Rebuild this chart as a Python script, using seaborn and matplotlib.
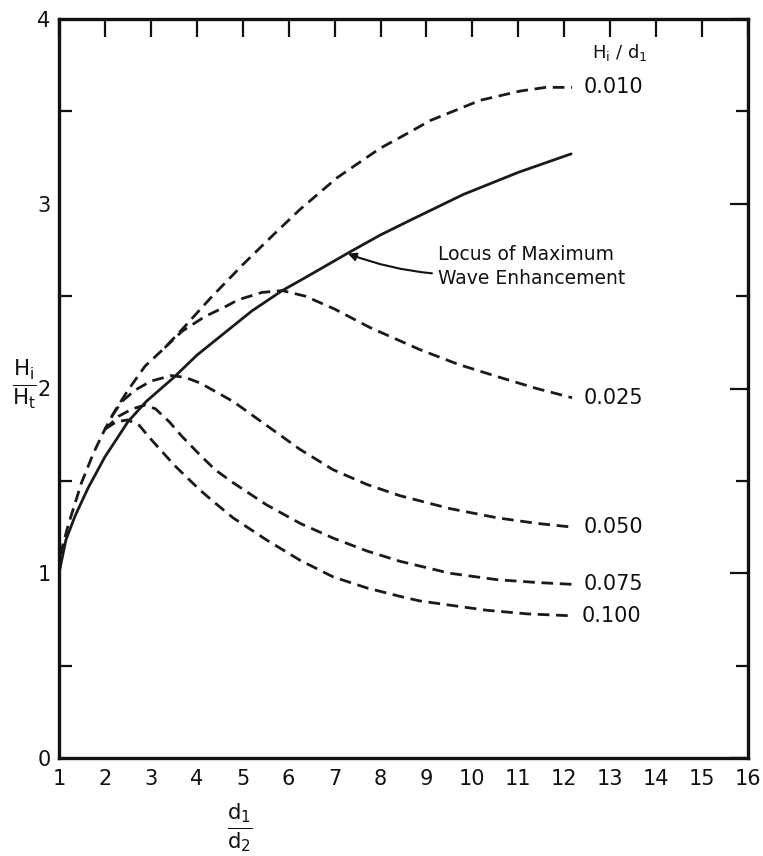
import numpy as np
import pandas as pd
import matplotlib
matplotlib.use("Agg")
import matplotlib.pyplot as plt
import seaborn as sns

# ---- data ----
x_locus = [1.0, 1.15, 1.35, 1.63, 2.0, 2.37, 2.5, 2.9, 3.5, 4.0, 4.55, 5.2, 5.86, 6.36, 7.34, 7.99, 8.64, 9.8, 11.0, 12.15]
y_locus = [1.0, 1.18, 1.31, 1.46, 1.63, 1.77, 1.82, 1.93, 2.06, 2.18, 2.29, 2.42, 2.53, 2.60, 2.74, 2.83, 2.91, 3.05, 3.17, 3.27]

x_010 = [1.0, 1.07, 1.2, 1.49, 1.75, 2.0, 2.22, 2.5, 2.87, 3.3, 3.68, 4.3, 5.0, 5.7, 6.25, 7.05, 7.99, 8.58, 9.08, 10.17, 11.04, 11.6, 12.17]
y_010 = [1.0, 1.14, 1.26, 1.49, 1.65, 1.78, 1.88, 1.99, 2.12, 2.22, 2.32, 2.49, 2.67, 2.84, 2.97, 3.14, 3.30, 3.38, 3.45, 3.56, 3.61, 3.63, 3.63]

x_025 = [3.3, 3.68, 4.18, 4.6, 4.9, 5.42, 5.86, 6.36, 7.0, 7.77, 8.86, 9.7, 10.6, 11.4, 12.17]
y_025 = [2.22, 2.31, 2.39, 2.44, 2.48, 2.52, 2.53, 2.50, 2.43, 2.33, 2.21, 2.13, 2.06, 2.00, 1.95]

x_050 = [2.15, 2.37, 2.65, 3.0, 3.45, 3.75, 4.07, 4.79, 5.52, 6.25, 6.97, 7.71, 8.42, 9.51, 10.54, 11.4, 12.17]
y_050 = [1.85, 1.93, 1.99, 2.04, 2.07, 2.06, 2.03, 1.93, 1.80, 1.67, 1.56, 1.48, 1.42, 1.35, 1.30, 1.27, 1.25]

x_075 = [2.0, 2.3, 2.6, 2.87, 3.1, 3.4, 3.68, 4.07, 4.40, 4.79, 5.52, 6.25, 6.97, 7.71, 8.42, 9.51, 10.54, 11.4, 12.17]
y_075 = [1.78, 1.85, 1.89, 1.91, 1.89, 1.82, 1.74, 1.64, 1.56, 1.49, 1.37, 1.27, 1.19, 1.12, 1.065, 1.00, 0.965, 0.95, 0.94]

x_100 = [2.0, 2.25, 2.5, 2.75, 2.95, 3.2, 3.53, 4.07, 4.40, 4.79, 5.52, 6.25, 6.97, 7.71, 8.42, 8.86, 10.3, 11.2, 12.13]
y_100 = [1.78, 1.82, 1.83, 1.80, 1.74, 1.67, 1.58, 1.45, 1.38, 1.30, 1.18, 1.07, 0.98, 0.92, 0.875, 0.85, 0.80, 0.78, 0.77]

series_names = ["locus", "0.010", "0.025", "0.050", "0.075", "0.100"]
series_x = [x_locus, x_010, x_025, x_050, x_075, x_100]
series_y = [y_locus, y_010, y_025, y_050, y_075, y_100]

x_ticks = list(range(1, 17))
x_ticklabels = [str(v) for v in x_ticks]
y_ticks = [0, 1, 2, 3, 4]
y_ticklabels = [str(v) for v in y_ticks]

# ---- build long-form table ----
frames = []
for name, xs, ys in zip(series_names, series_x, series_y):
    frames.append(pd.DataFrame({"x": xs, "y": ys, "series": name,
                                "order": np.arange(len(xs))}))
df = pd.concat(frames, ignore_index=True)

sns.set_theme(style="white")
plt.rcParams["font.family"] = ["DejaVu Sans"]
plt.rcParams["mathtext.fontset"] = "dejavusans"
plt.rcParams["lines.solid_joinstyle"] = "round"
plt.rcParams["lines.dash_joinstyle"] = "round"

fig = plt.figure(figsize=(7.63, 8.56), dpi=100)
ax = fig.add_axes([59 / 763, 1 - 758 / 856, (748 - 59) / 763, (758 - 19) / 856])

dash = (4.2, 2.4)
dashes = {n: (dash if n != "locus" else "") for n in series_names}
palette = {n: "#1a1a1a" for n in series_names}
sns.lineplot(data=df, x="x", y="y", hue="series", style="series",
             units="series", estimator=None, sort=False,
             palette=palette, dashes=dashes, linewidth=2.0,
             legend=False, ax=ax)

ax.set_xlim(1, 16)
ax.set_ylim(0, 4)
ax.set_xlabel("")
ax.set_ylabel("")

for s in ax.spines.values():
    s.set_linewidth(2.4)
    s.set_color("#111111")

ax.set_xticks(x_ticks)
ax.set_xticklabels(x_ticklabels, fontsize=15)
ax.set_yticks(y_ticks)
ax.set_yticklabels(y_ticklabels, fontsize=15)
ax.set_yticks([0.5, 1.5, 2.5, 3.5], minor=True)
ax.tick_params(axis="both", which="major", direction="in", length=13, width=1.6,
               top=True, right=True, colors="#111111", pad=6)
ax.tick_params(axis="both", which="minor", direction="in", length=9, width=1.6,
               left=True, right=True, colors="#111111")
ax.tick_params(axis="x", which="major", pad=8)

# right-hand labels
for name, xs, ys in zip(series_names[1:], series_x[1:], series_y[1:]):
    ax.text(xs[-1] + 0.25, ys[-1], name, fontsize=15, va="center", ha="left",
            color="#111111")
ax.text(13.2, 3.82, r"H$_\mathrm{i}$ / d$_\mathrm{1}$", fontsize=13,
        ha="center", va="center", color="#111111")

# annotation
ax.annotate("Locus of Maximum\nWave Enhancement", xy=(7.29, 2.73),
            xytext=(9.25, 2.66), fontsize=13.5, va="center", ha="left",
            linespacing=1.3, color="#111111",
            arrowprops=dict(arrowstyle="-|>", color="#111111", lw=1.5,
                            shrinkA=2, shrinkB=0, mutation_scale=12,
                            connectionstyle="arc3,rad=-0.15"))

# axis titles as fractions
fig.text(24 / 763, 1 - 385 / 856, r"$\frac{\mathrm{H_i}}{\mathrm{H_t}}$",
         fontsize=22, ha="center", va="center", color="#111111")
fig.text(240 / 763, 1 - 828 / 856, r"$\frac{\mathrm{d_1}}{\mathrm{d_2}}$",
         fontsize=22, ha="center", va="center", color="#111111")

fig.savefig("out.png", dpi=100, facecolor="white")
